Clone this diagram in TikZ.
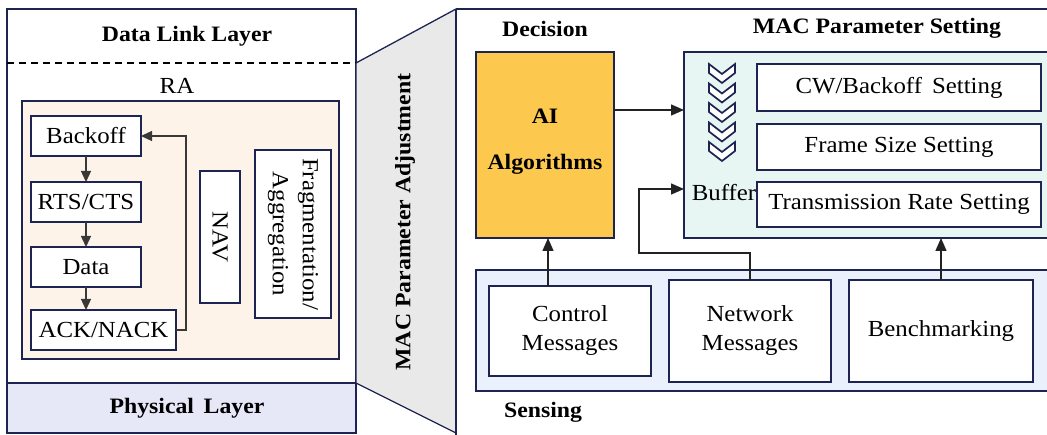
\documentclass[tikz,border=0pt]{standalone}
\usepackage{fontspec}
\setmainfont{Liberation Serif}[FakeStretch=1.08]
\usetikzlibrary{arrows.meta}
\definecolor{navy}{HTML}{1E2452}
\definecolor{physfill}{HTML}{E6E8F8}
\definecolor{rafill}{HTML}{FDF3E8}
\definecolor{trapfill}{HTML}{E9E9E9}
\definecolor{aifill}{HTML}{FCC94E}
\definecolor{macfill}{HTML}{E7F6F3}
\definecolor{sensfill}{HTML}{EAF0FC}
\definecolor{arrcol}{HTML}{222222}
\begin{document}
\begin{tikzpicture}[x=1pt,y=-1pt,
  txt/.style={font=\fontsize{23}{27}\selectfont, inner sep=0pt, outer sep=0pt},
  btxt/.style={font=\fontsize{22}{26}\selectfont\bfseries, inner sep=0pt, outer sep=0pt},
  box/.style={draw=navy, line width=1.5pt, fill=white, inner sep=0pt, outer sep=0pt,
    anchor=north west, font=\fontsize{23}{27}\selectfont, align=center},
  panel/.style={draw=navy, line width=1.3pt},
  arr/.style={-{Triangle[length=13pt,width=11pt]}, line width=1.4pt, draw=arrcol},
  larr/.style={-{Triangle[length=11pt,width=10pt]}, line width=1.3pt, draw=arrcol!90},
]
\useasboundingbox (0,0) rectangle (1047,435);
\clip (0,0) rectangle (1047,435);

% ---------- left panel ----------
\fill[physfill] (7,383) rectangle (356,433);
\draw[panel] (7,9) rectangle (356,433);
\draw[panel] (7,383) -- (356,383);
\draw[line width=1.3pt, dashed, dash pattern=on 7pt off 5pt] (7,63) -- (356,63);
\node[btxt] (dll) at (187,36) {Data Link Layer};
\node[btxt] (phy) at (187,408) {Physical\, Layer};

% ---------- trapezoid ----------
\filldraw[fill=trapfill, draw=navy, line width=1.3pt] (356,63) -- (456,9) -- (456,433) -- (356,383) -- cycle;
\node[btxt, rotate=90] (mpa) at (405,222) {MAC Parameter Adjustment};

% ---------- RA ----------
\node[txt] (ralab) at (177,86) {RA};
\node[box, fill=rafill, line width=1.3pt, minimum width=317pt, minimum height=258pt] (ra) at (22,101) {};
\node[box, minimum width=110pt, minimum height=40pt] (backoff) at (31,116) {Backoff};
\node[box, minimum width=110pt, minimum height=40pt] (rts) at (31,182) {RTS/CTS};
\node[box, minimum width=110pt, minimum height=40pt] (data) at (31,247) {Data};
\node[box, minimum width=145pt, minimum height=40pt] (ack) at (31,310) {ACK/NACK};
\node[box, minimum width=40pt, minimum height=132pt] (navbox) at (200,171) {};
\node[txt, rotate=-90] (navtxt) at (navbox.center) {NAV};
\node[box, minimum width=76pt, minimum height=168pt] (frag) at (255,150) {};
\node[txt, rotate=-90, align=center, font=\fontsize{23}{30}\selectfont] (fragtxt) at (frag.center) {Fragmentation/\\Aggregation};

\draw[larr] (backoff.south) -- (rts.north);
\draw[larr] (rts.south) -- (data.north);
\draw[larr] (data.south) -- (data.south |- ack.north);
\draw[larr] (ack.east) -- (186,330) -- (186,136) -- (backoff.east);

% ---------- right panel ----------
\draw[panel] (456,9) -- (1060,9);
\draw[panel] (456,9) -- (456,440);

\node[btxt] (declab) at (545,29) {Decision};
\node[box, fill=aifill, minimum width=138pt, minimum height=186pt] (ai) at (476,52) {};
\node[btxt, align=center, font=\fontsize{22}{46}\selectfont\bfseries] (aitxt) at (545,142) {AI\\Algorithms};

\node[btxt] (maclab) at (877,28) {MAC Parameter Setting};
\node[box, fill=macfill, line width=1.3pt, minimum width=380pt, minimum height=186pt] (mac) at (684,52) {};
\node[box, minimum width=284pt, minimum height=47pt] (cw) at (757,64) {CW/Backoff\, Setting};
\node[box, minimum width=284pt, minimum height=46pt] (fs) at (757,124) {Frame Size Setting};
\node[box, minimum width=284pt, minimum height=45pt] (tr) at (757,182) {Transmission Rate Setting};
\node[txt] (buf) at (724,193) {Buffer};
\foreach \i in {0,...,4}{
  \draw[navy, fill=white, line width=1.7pt, line join=miter, shift={(722,{64+\i*19.5})}]
    (-13,0) -- (0,10) -- (13,0) -- (13,9) -- (0,19) -- (-13,9) -- cycle;
}

\fill[sensfill] (476,270) rectangle (1060,391);
\draw[panel] (1060,270) -- (476,270) -- (476,391) -- (1060,391);
\node[box, minimum width=162pt, minimum height=90pt] (ctrl) at (489,286) {Control\\[2pt]Messages};
\node[box, minimum width=162pt, minimum height=102pt] (net) at (669,280) {Network\\[2pt]Messages};
\node[box, minimum width=184pt, minimum height=102pt] (bench) at (849,280) {Benchmarking};
\node[btxt] (senslab) at (543,412) {Sensing};

\draw[arr] (ai.east |- 0,110) -- (mac.west |- 0,110);
\draw[arr] (net.north) -- (750,253) -- (639,253) -- (639,189) -- (mac.west |- 0,189);
\draw[arr] (ctrl.north -| 548,0) -- (ai.south -| 548,0);
\draw[arr] (bench.north -| 941,0) -- (mac.south -| 941,0);
\end{tikzpicture}
\end{document}
